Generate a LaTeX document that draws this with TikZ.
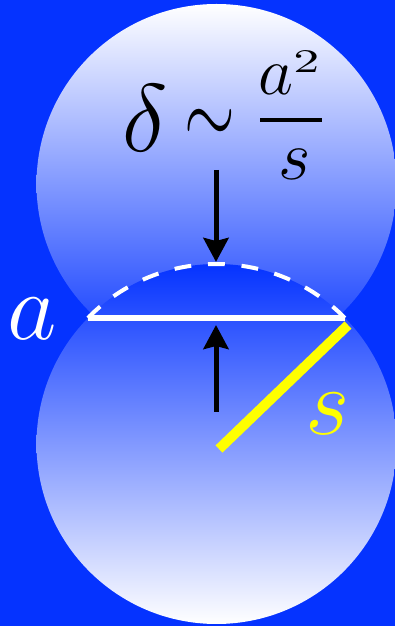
\RequirePackage{fix-cm}
\documentclass[tikz,border=0pt]{standalone}
\usepackage{graphicx}
\usetikzlibrary{arrows.meta}
\definecolor{bgblue}{RGB}{5,51,255}
\definecolor{sy}{RGB}{255,255,0}
\begin{document}
\begin{tikzpicture}[x=1pt,y=1pt,
  txt/.style={inner sep=0pt, outer sep=0pt},
  force/.style={black, line width=5pt, -{Stealth[length=24pt,width=25pt,inset=3pt]}},
  chord/.style={white, line width=6pt},
  dasharc/.style={white, line width=4pt, dash pattern=on 16.84pt off 16.84pt},
  radiusline/.style={sy, line width=10pt},
]
\path[fill=bgblue] (0,0) rectangle (395,626);
\useasboundingbox (0,0) rectangle (395,626);
\coordinate (ct) at (216.5,442);
\coordinate (cb) at (216.5,182);
\shade[top color=white, bottom color=bgblue] (ct) circle[radius=180pt];
\shade[top color=bgblue, bottom color=white] (cb) circle[radius=180pt];
\coordinate (L) at (88.1,308);
\coordinate (R) at (344.9,308);
\draw[dasharc] (R) arc[start angle=44.43, end angle=135.57, radius=180pt];
\draw[chord] (L) -- (R);
% forces
\coordinate (t1) at (216,456);
\coordinate (t2) at (216,364);
\coordinate (b1) at (216,214);
\coordinate (b2) at (216,301);
\draw[force] (t1) -- (t2);
\draw[force] (b1) -- (b2);
% radius s
\coordinate (y1) at (219,177);
\coordinate (y2) at (348,301);
\draw[radiusline] (y1) -- (y2);
% labels
\node[txt, anchor=base west, text=white, font=\fontsize{96}{96}\selectfont] (alab) at (8,286) {$a$};
\node[txt, anchor=base west, text=sy, font=\fontsize{96}{96}\selectfont] (slab) at (305,191) {$s$};
% formula
\node[txt, anchor=base west, font=\fontsize{96}{96}\selectfont] (delta) at (122,474) {$\delta$};
\node[txt, anchor=base, font=\fontsize{96}{96}\selectfont] (sim) at (209.5,481.5) {\scalebox{0.68}[1]{$\sim$}};
\node[txt, anchor=base west, font=\fontsize{68}{68}\selectfont] (num) at (258.5,531)
  {$a$\raisebox{22pt}{\scalebox{5.2}[3.3]{\fontsize{10}{12}\selectfont 2}}};
\node[txt, anchor=base west, font=\fontsize{70}{70}\selectfont] (den) at (278,446) {$s$};
\draw[line width=3.3pt] (260,506) -- (322,506);
\end{tikzpicture}
\end{document}
